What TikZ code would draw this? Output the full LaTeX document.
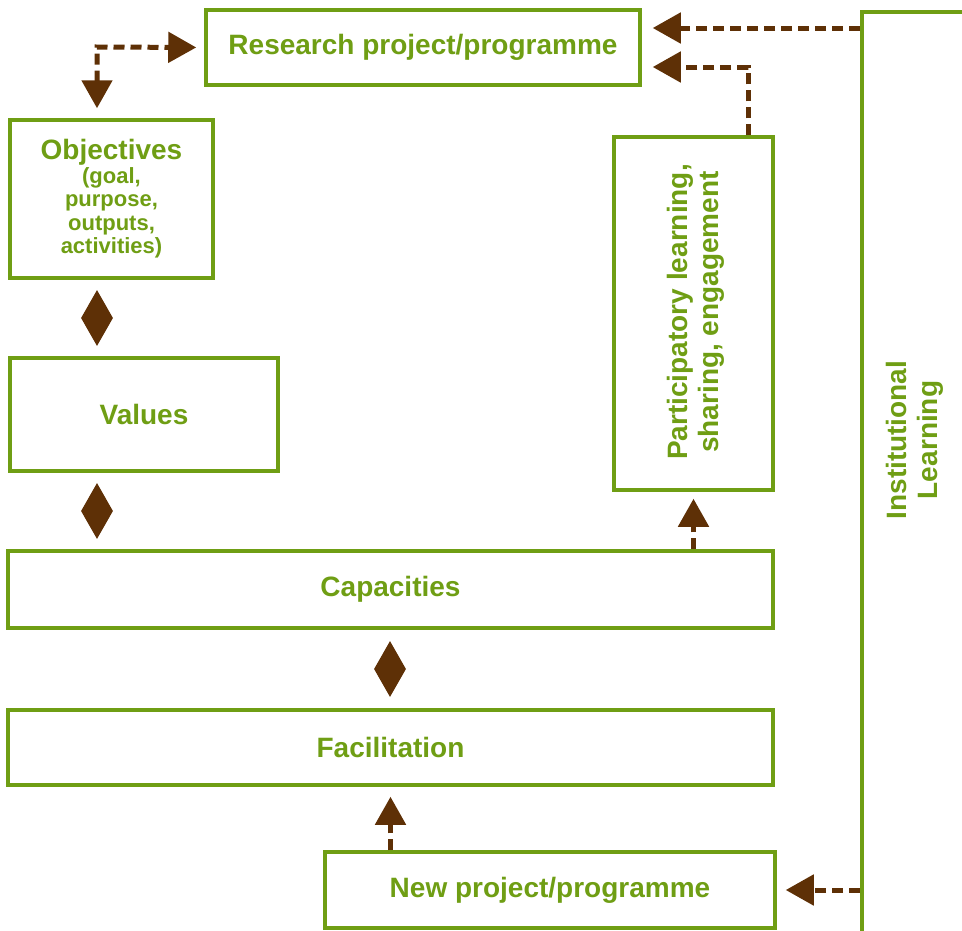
\documentclass[tikz,border=0pt]{standalone}
\usepackage{fontspec}
\setmainfont{Liberation Sans}
\usetikzlibrary{arrows.meta,shapes.geometric,calc}
\definecolor{grn}{RGB}{111,158,20}
\definecolor{brn}{RGB}{94,48,6}
\newcommand{\smtxt}{\fontsize{22}{23.5}\selectfont}
\begin{document}
\begin{tikzpicture}[x=1pt,y=-1pt,
  box/.style={draw=grn, line width=3.5pt, inner sep=0pt, text=grn, align=center,
    font=\bfseries\fontsize{28}{32}\selectfont},
  lbl/.style={text=grn, align=center, inner sep=0pt, font=\bfseries\fontsize{28}{31}\selectfont},
  dia/.style={diamond, fill=brn, inner sep=0pt, minimum width=32pt, minimum height=56pt},
  tip/.tip={Triangle[width=30pt,length=28pt]},
  flow/.style={draw=brn, line width=5pt, dash pattern=on 11pt off 6pt, -tip}]
\useasboundingbox (0,0) rectangle (962,930);

\node[box, minimum width=434pt, minimum height=75pt] (research) at (423,47.5) {Research project/programme};
\node[box, minimum width=203pt, minimum height=158pt, font=\bfseries\fontsize{28}{23.5}\selectfont] (objectives) at (111.5,199)
  {Objectives\\\smtxt(goal,\\\smtxt purpose,\\\smtxt outputs,\\\smtxt activities)};
\node[box, minimum width=268pt, minimum height=113pt] (values) at (144,414.5) {Values};
\node[box, minimum width=765pt, minimum height=77pt] (capacities) at (390.5,589.5) {Capacities};
\node[box, minimum width=765pt, minimum height=75pt] (facilitation) at (390.5,747.5) {Facilitation};
\node[box, minimum width=450pt, minimum height=76pt] (newproj) at (550,890) {New project/programme};
\node[box, minimum width=159pt, minimum height=353pt] (partic) at (693.5,313.5) {};
\node[lbl, rotate=90] (particlbl) at (696,312) {Participatory learning,\\sharing, engagement};
\node[box, anchor=north west, minimum width=200pt, minimum height=1000pt] (inst) at (860,10) {};
\node[lbl, rotate=90] (instlbl) at (915,440) {Institutional\\Learning};

\node[dia] (d1) at (97,318) {};
\node[dia] (d2) at (97,511) {};
\node[dia] (d3) at (390,669) {};

\coordinate (e1) at (97,47);
\draw[flow, tip-tip, shorten <=10pt, shorten >=8pt] (e1 |- objectives.north) -- (e1) -- (research.west);

\coordinate (a2) at ($(inst.north west)+(0,18)$);
\draw[flow, shorten >=11pt] (a2) -- (research.east |- a2);

\coordinate (e2) at (748,67);
\draw[flow, shorten >=11pt] (partic.north -| e2) -- (e2) -- (research.east |- e2);

\draw[flow, shorten >=7pt] (capacities.north -| partic.south) -- (partic.south);
\draw[flow, shorten >=10pt] (newproj.north -| facilitation.south) -- (facilitation.south);
\draw[flow, shorten >=9pt] (inst.west |- newproj.east) -- (newproj.east);
\end{tikzpicture}
\end{document}
